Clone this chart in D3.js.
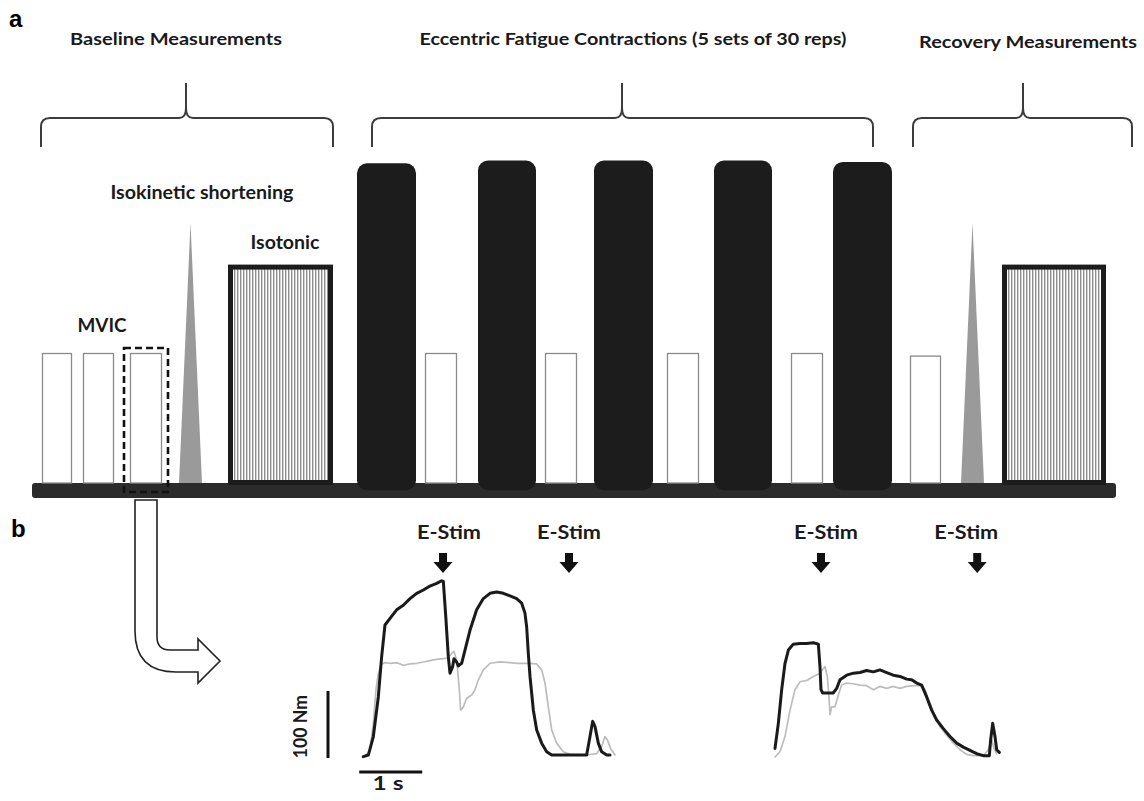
<!DOCTYPE html>
<html>
<head>
<meta charset="utf-8">
<script src="https://cdnjs.cloudflare.com/ajax/libs/d3/7.8.5/d3.min.js"></script>
<style>
  html, body { margin: 0; background: #fff; }
</style>
</head>
<body>
<svg id="chart" width="1144" height="801"></svg>
<script>
// ---- protocol (panel a), positions in timeline units ----
const phaseLabels = ["Baseline Measurements", "Eccentric Fatigue Contractions (5 sets of 30 reps)", "Recovery Measurements"];
const phaseStart = [9, 340, 881];
const phaseEnd = [301, 841, 1100];
const phaseMid = [154, 590, 991];

const blockType = ["mvic", "mvic", "mvic", "isokinetic", "isotonic",
  "eccentric", "mvic", "eccentric", "mvic", "eccentric", "mvic", "eccentric", "mvic", "eccentric",
  "mvic", "isokinetic", "isotonic"];
const blockStart = [10, 51, 98, 147, 196, 325, 393, 446, 513, 562, 635, 682, 759, 801, 878, 929, 970];
const blockEnd = [40, 82, 130, 170, 301, 384, 425, 504, 545, 621, 667, 740, 791, 860, 909, 952, 1074];
const blockLevel = [1, 1, 1, 2, 1.68, 2.46, 1, 2.48, 1, 2.48, 1, 2.48, 1, 2.47, 0.98, 2, 1.68];

// ---- torque traces (panel b): [time s, torque Nm] ----
const black1 = [[0.005,0.5],[0.085,3],[0.164,31],[0.243,91],[0.296,152],[0.349,200],[0.429,210],[0.534,223],[0.640,230],[0.746,240],[0.852,248],[0.958,253],[1.063,259],[1.169,263],[1.249,267],[1.275,266],[1.317,208],[1.354,152],[1.381,127],[1.423,137],[1.444,149],[1.487,144],[1.513,138],[1.566,142],[1.619,162],[1.698,192],[1.804,223],[1.910,240],[2.016,248],[2.122,250],[2.228,248],[2.333,244],[2.439,240],[2.519,233],[2.571,218],[2.598,197],[2.624,157],[2.651,122],[2.704,71],[2.757,41],[2.836,21],[2.915,8],[2.995,3],[3.286,3],[3.550,3],[3.603,31],[3.646,54],[3.683,46],[3.735,21],[3.788,8],[3.868,3],[3.921,3]];
const gray1 = [[0.058,3],[0.111,11],[0.164,51],[0.206,102],[0.243,127],[0.296,141],[0.349,143],[0.429,142],[0.534,143],[0.640,139],[0.746,141],[0.852,142],[0.958,144],[1.063,146],[1.169,148],[1.275,149],[1.354,150],[1.407,157],[1.444,160],[1.476,150],[1.497,137],[1.529,102],[1.550,71],[1.593,76],[1.646,89],[1.725,94],[1.778,102],[1.831,117],[1.910,132],[2.016,142],[2.175,144],[2.333,143],[2.439,142],[2.651,142],[2.757,141],[2.836,132],[2.889,112],[2.942,76],[2.995,41],[3.074,21],[3.180,8],[3.286,4],[3.550,3],[3.709,5],[3.788,16],[3.841,31],[3.878,26],[3.931,13],[4.0,3]];
const black2 = [[0,13],[0.053,51],[0.106,102],[0.159,142],[0.212,162],[0.291,171],[0.397,172],[0.503,172],[0.608,173],[0.688,171],[0.714,137],[0.730,102],[0.757,97],[0.847,97],[0.926,97],[0.979,104],[1.032,117],[1.138,124],[1.243,127],[1.349,128],[1.455,131],[1.561,129],[1.667,132],[1.772,128],[1.878,124],[1.984,122],[2.090,118],[2.169,117],[2.249,112],[2.328,109],[2.407,91],[2.487,71],[2.566,56],[2.672,43],[2.778,31],[2.884,21],[2.989,15],[3.095,10],[3.201,5],[3.307,2],[3.402,2],[3.423,26],[3.455,51],[3.492,31],[3.519,11],[3.561,7]];
const gray2 = [[0,0],[0.079,8],[0.159,31],[0.238,71],[0.317,102],[0.397,114],[0.503,116],[0.608,122],[0.714,127],[0.794,137],[0.831,122],[0.857,91],[0.873,64],[0.899,76],[0.952,76],[1.005,94],[1.058,109],[1.138,112],[1.243,111],[1.349,109],[1.455,108],[1.561,102],[1.667,107],[1.772,104],[1.878,107],[1.984,104],[2.090,107],[2.196,108],[2.302,108],[2.381,102],[2.460,81],[2.540,61],[2.619,46],[2.725,33],[2.831,21],[2.937,11],[3.042,4],[3.148,2],[3.307,2],[3.386,11],[3.439,26],[3.476,13],[3.519,5]];
const stimTimes1 = [1.27, 3.27];
const stimTimes2 = [0.73, 3.21];
const stimLabel = "E-Stim";

// ---- drawing ----
const FONT = "Lato, 'Open Sans', sans-serif";
const svg = d3.select("#chart");

const x = d3.scaleLinear().domain([0, 1100]).range([32, 1132]);
const yLevel = d3.scaleLinear().domain([0, 1]).range([483, 353]);

const defs = svg.append("defs");
const pat = defs.append("pattern")
  .attr("id", "stripes").attr("patternUnits", "userSpaceOnUse")
  .attr("width", 3).attr("height", 10);
pat.append("rect").attr("width", 3).attr("height", 10).attr("fill", "#fff");
pat.append("rect").attr("width", 1.4).attr("height", 10).attr("fill", "#8c8c8c");

function label(g, txt, cx, y, size, w) {
  const t = g.append("text")
    .attr("x", cx).attr("y", y)
    .attr("text-anchor", "middle")
    .style("font-family", FONT)
    .style("font-weight", "bold")
    .style("font-size", size + "px")
    .attr("fill", "#1a1a1a")
    .text(txt);
  if (w) t.attr("textLength", w).attr("lengthAdjust", "spacingAndGlyphs");
  return t;
}

// panel letters
svg.append("text").attr("x", 9).attr("y", 27)
  .style("font-family", "'Liberation Sans', Arial, sans-serif")
  .style("font-weight", "bold").style("font-size", "24px").text("a");
svg.append("text").attr("x", 11).attr("y", 537)
  .style("font-family", "'Liberation Sans', Arial, sans-serif")
  .style("font-weight", "bold").style("font-size", "24px").text("b");

// phase titles + braces
const titleW = [212, 427, 218];
const titleX = [176, 633, 1028];
const titleY = [45, 45, 48];
phaseLabels.forEach(function (d, i) {
  label(svg, d, titleX[i], titleY[i], 17, titleW[i]);
});

svg.selectAll(".brace")
  .data(phaseLabels)
  .enter().append("path")
  .attr("class", "brace")
  .attr("fill", "none")
  .attr("stroke", "#3c3c3c")
  .attr("stroke-width", 2)
  .attr("d", function (d, i) {
    const a = x(phaseStart[i]), b = x(phaseEnd[i]), m = x(phaseMid[i]);
    const yb = 118, ye = 147, yt = 83;
    return "M" + a + "," + ye + " L" + a + "," + (yb + 9) +
      " Q" + a + "," + yb + " " + (a + 9) + "," + yb +
      " L" + (m - 7) + "," + yb + " Q" + m + "," + yb + " " + m + "," + (yb - 10) +
      " L" + m + "," + yt +
      " M" + m + "," + (yb - 10) + " Q" + m + "," + yb + " " + (m + 7) + "," + yb +
      " L" + (b - 9) + "," + yb + " Q" + b + "," + yb + " " + b + "," + (yb + 9) +
      " L" + b + "," + ye;
  });

// ground bar
svg.append("rect")
  .attr("x", 32).attr("y", yLevel(0)).attr("width", 1084).attr("height", 15)
  .attr("rx", 3).attr("fill", "#2b2b2b");

const blocks = blockType.map(function (t, i) {
  return { type: t, x0: x(blockStart[i]), x1: x(blockEnd[i]), level: blockLevel[i] };
});

// MVIC bars
svg.selectAll(".mvic").data(blocks.filter(function (d) { return d.type === "mvic"; }))
  .enter().append("rect").attr("class", "mvic")
  .attr("x", function (d) { return d.x0 + 0.5; })
  .attr("y", function (d) { return yLevel(d.level) + 0.5; })
  .attr("width", function (d) { return d.x1 - d.x0 - 1; })
  .attr("height", function (d) { return yLevel(0) - yLevel(d.level) - 0.5; })
  .attr("fill", "#fff").attr("stroke", "#8a8a8a").attr("stroke-width", 1.3);

// isokinetic triangles
svg.selectAll(".isok").data(blocks.filter(function (d) { return d.type === "isokinetic"; }))
  .enter().append("path").attr("class", "isok")
  .attr("fill", "#9a9a9a")
  .attr("d", function (d) {
    return "M" + d.x0 + "," + yLevel(0) + " L" + ((d.x0 + d.x1) / 2) + "," + yLevel(d.level) +
      " L" + d.x1 + "," + yLevel(0) + " Z";
  });

// isotonic boxes
svg.selectAll(".isot").data(blocks.filter(function (d) { return d.type === "isotonic"; }))
  .enter().append("rect").attr("class", "isot")
  .attr("x", function (d) { return d.x0 + 2.5; })
  .attr("y", function (d) { return yLevel(d.level) + 2.5; })
  .attr("width", function (d) { return d.x1 - d.x0 - 5; })
  .attr("height", function (d) { return yLevel(0) - yLevel(d.level) - 3; })
  .attr("fill", "url(#stripes)").attr("stroke", "#1c1c1c").attr("stroke-width", 5);

// eccentric bars
svg.selectAll(".ecc").data(blocks.filter(function (d) { return d.type === "eccentric"; }))
  .enter().append("rect").attr("class", "ecc")
  .attr("x", function (d) { return d.x0; })
  .attr("y", function (d) { return yLevel(d.level); })
  .attr("width", function (d) { return d.x1 - d.x0; })
  .attr("height", function (d) { return yLevel(-0.055) - yLevel(d.level); })
  .attr("rx", 10).attr("fill", "#1c1c1c");

// dashed selection box around 3rd MVIC
const sel = blocks[2];
svg.append("rect")
  .attr("x", sel.x0 - 6).attr("y", yLevel(sel.level) - 5)
  .attr("width", sel.x1 - sel.x0 + 12).attr("height", yLevel(0) - yLevel(sel.level) + 14)
  .attr("fill", "none").attr("stroke", "#111").attr("stroke-width", 2.6)
  .attr("stroke-dasharray", "7,4");

// block labels
label(svg, "MVIC", (blocks[0].x0 + blocks[2].x1) / 2, 332, 19, 49);
label(svg, "Isokinetic shortening", 202, 199, 19, 183);
label(svg, "Isotonic", 285, 249, 19, 69);

// hollow arrow from selected MVIC to traces
svg.append("path")
  .attr("d", "M135,500 L157,500 L157,637 Q157,650 170,650 L198,650 L198,639 L220,661 L198,683 L198,672 L176,672 Q135,672 135,631 Z")
  .attr("fill", "#fff").attr("stroke", "#222").attr("stroke-width", 1.6);

// ---- panel b traces ----
const yT = d3.scaleLinear().domain([0, 100]).range([757, 691]);
const xT1 = d3.scaleLinear().domain([0, 1]).range([363, 426]);
const xT2 = d3.scaleLinear().domain([0, 1]).range([775, 838]);

function drawTrace(data, xs, color, width) {
  svg.append("path").datum(data)
    .attr("fill", "none").attr("stroke", color).attr("stroke-width", width)
    .attr("stroke-linejoin", "round").attr("stroke-linecap", "round")
    .attr("d", d3.line().x(function (d) { return xs(d[0]); }).y(function (d) { return yT(d[1]); }));
}
drawTrace(gray1, xT1, "#bdbdbd", 1.7);
drawTrace(black1, xT1, "#1a1a1a", 3);
drawTrace(gray2, xT2, "#bdbdbd", 1.7);
drawTrace(black2, xT2, "#1a1a1a", 3);

// E-Stim arrows
const stims = stimTimes1.map(function (t) { return xT1(t); })
  .concat(stimTimes2.map(function (t) { return xT2(t); }));
const stimShift = [6, 0, 5, -11];
svg.selectAll(".stim").data(stims).enter().append("path").attr("class", "stim")
  .attr("fill", "#111")
  .attr("d", function (cx) {
    const top = 553;
    return "M" + (cx - 4) + "," + top + " L" + (cx + 4) + "," + top +
      " L" + (cx + 4) + "," + (top + 9) + " L" + (cx + 9.5) + "," + (top + 9) +
      " L" + cx + "," + (top + 20) + " L" + (cx - 9.5) + "," + (top + 9) +
      " L" + (cx - 4) + "," + (top + 9) + " Z";
  });
stims.forEach(function (cx, i) {
  label(svg, stimLabel, cx + stimShift[i], 539, 18, 64);
});

// scale bars
svg.append("line")
  .attr("x1", 328).attr("x2", 328).attr("y1", yT(0) + 1).attr("y2", yT(100))
  .attr("stroke", "#111").attr("stroke-width", 3);
svg.append("line")
  .attr("x1", xT1(-0.06)).attr("x2", xT1(0.94)).attr("y1", 772).attr("y2", 772)
  .attr("stroke", "#111").attr("stroke-width", 3);
label(svg, "1 s", 388, 790, 18, 31);
label(svg, "100 Nm", 0, 0, 18, 63)
  .attr("transform", "translate(307," + yT(46) + ") rotate(-90)");
</script>
</body>
</html>
